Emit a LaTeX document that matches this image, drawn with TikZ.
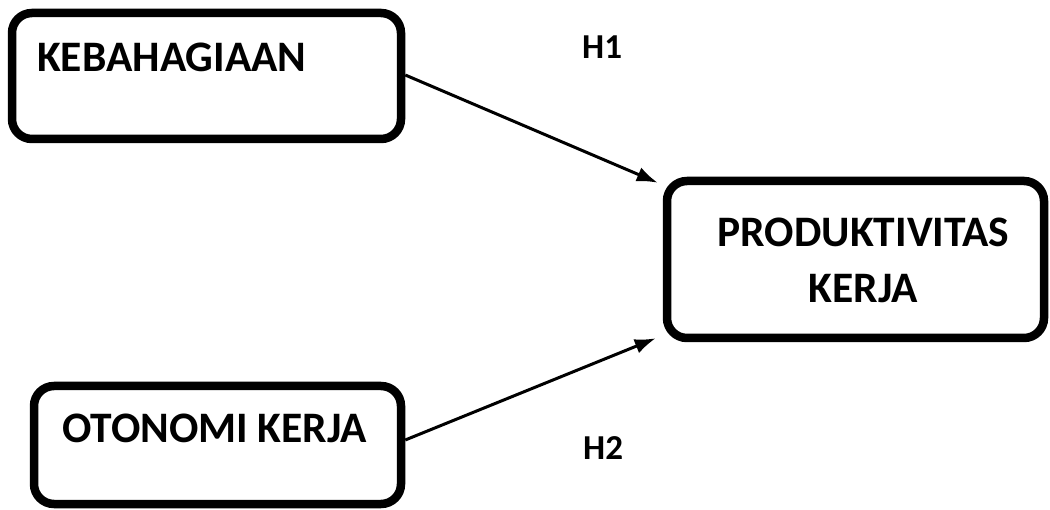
\documentclass[tikz,border=0pt]{standalone}
\usepackage{fontspec}
\setmainfont{Carlito}
\usetikzlibrary{arrows.meta,calc}
\begin{document}
\begin{tikzpicture}[x=1pt,y=-1pt,
  varbox/.style={draw=black,line width=8.5pt,rounded corners=20pt,rectangle,inner sep=0pt},
  lbl/.style={inner sep=0pt,font=\fontsize{43.5}{56}\selectfont\bfseries},
  hyp/.style={inner sep=0pt,font=\fontsize{35}{40}\selectfont\bfseries},
  link/.style={line width=3pt,-{Latex[length=21pt,width=15pt]}}]
\useasboundingbox (0,0) rectangle (1050,510);
\node[varbox,minimum width=389pt,minimum height=126pt] (b1) at (206.5,76) {};
\node[varbox,minimum width=367pt,minimum height=118pt] (b2) at (217.5,445) {};
\node[varbox,minimum width=377pt,minimum height=157pt] (b3) at (855.5,259.5) {};
\node[lbl,anchor=base west] (t1) at (37,72) {KEBAHAGIAAN};
\node[lbl,anchor=base west] (t2) at (62,443) {OTONOMI KERJA};
\node[lbl,align=center,anchor=base] (t3) at (863.5,303) {PRODUKTIVITAS\\KERJA};
\node[hyp,anchor=base west] (h1) at (582,59) {H1};
\node[hyp,anchor=base west] (h2) at (583,460) {H2};
\coordinate (e1) at ($(b3.north west)+(-5,6)$);
\coordinate (e2) at ($(b3.south west)+(-7,-4)$);
\draw[link] ($(b1.east)+(0,-1)$) -- (e1);
\draw[link] ($(b2.east)+(0,-5)$) -- (e2);
\end{tikzpicture}
\end{document}
